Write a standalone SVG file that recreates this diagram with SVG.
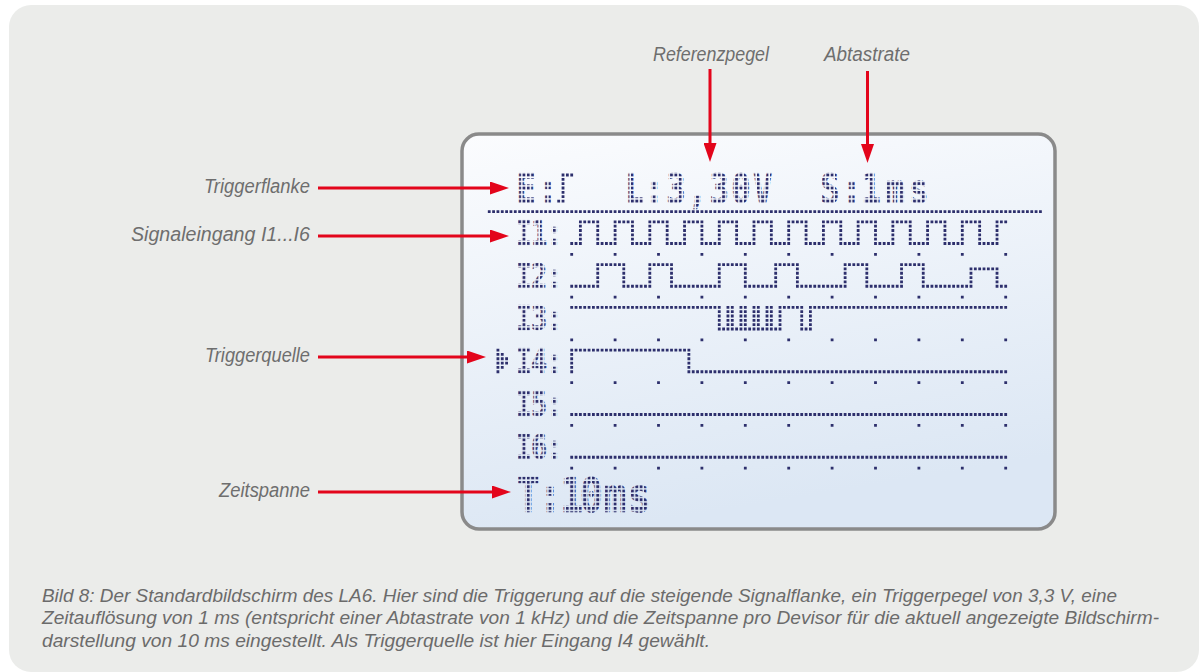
<svg xmlns="http://www.w3.org/2000/svg" width="1204" height="672" viewBox="0 0 1204 672">
<defs>
<style>
.lbl{font-family:"Liberation Sans",Arial,sans-serif;font-style:italic;font-size:20px;fill:#6e6e6e}
.cap{font-family:"Liberation Sans",Arial,sans-serif;font-style:italic;font-size:18px;fill:#6b6b6b}
.arr{stroke:#e3051b;stroke-width:3;fill:none;marker-end:url(#ah)}
.dl{fill:none;stroke:#2d2f6c;stroke-width:0.645;stroke-dasharray:0.645 0.355}
.mk{fill:none;stroke:#2d2f6c;stroke-width:0.645;stroke-dasharray:0.645 9.355}
.lcdt{font-family:"DejaVu Sans Mono","Liberation Mono",monospace;font-weight:bold;text-anchor:middle;fill:url(#dotc);stroke:url(#dotc);stroke-width:0.12}
</style>
<linearGradient id="lcdbg" x1="0" y1="0" x2="0.25" y2="1">
<stop offset="0" stop-color="#fbfcfe"/><stop offset="1" stop-color="#dce7f4"/>
</linearGradient>
<pattern id="dotc" patternUnits="userSpaceOnUse" x="-0.3225" y="-0.3225" width="1" height="1" patternTransform="scale(1.25 1)">
<rect width="0.645" height="0.645" fill="#2d2f6c"/>
</pattern>
<marker id="ah" markerUnits="userSpaceOnUse" markerWidth="20" markerHeight="13" refX="9" refY="6.5" orient="auto">
<path d="M0,0 L19,6.5 L0,13 z" fill="#e3051b"/>
</marker>
</defs>

<rect x="9" y="5" width="1190" height="667" rx="22" fill="#ebecea"/>

<g id="lcd">
<rect x="462" y="134" width="593" height="395" rx="17" fill="url(#lcdbg)" stroke="#8a8a8a" stroke-width="3.5"/>
</g>

<g id="header" transform="translate(571.7 175) scale(4.34)">
<text class="lcdt" font-size="9.26" transform="scale(0.8 1)" x="-13.125 -6.875" y="6.38">E:</text>
<path class="dl" d="M-3.3225 6 H-2 V0 H0.3225"/>
<text class="lcdt" font-size="9.26" transform="scale(0.8 1)" x="18.125 23.75 30 36.25 42.5 48.75 55" y="6.38">L:3,30V</text>
<text class="lcdt" font-size="9.26" transform="scale(0.8 1)" x="74.375 80.625 86.25 93.125 100" y="6.38">S:1ms</text>
</g>
<path class="dl" transform="translate(571.7 211.7) scale(4.34)" d="M-19.3225 0 H108.3225"/>

<g id="ch-I1" transform="translate(571.7 221.8) scale(4.34)">
<text class="lcdt" font-size="7.74" transform="scale(0.8 1)" x="-13.75 -9.375 -5" y="5.32">I1:</text>
<path class="dl" d="M-0.3225 5 H2 V0 H6 V5 H10 V0 H14 V5 H18 V0 H22 V5 H26 V0 H30 V5 H34 V0 H38 V5 H42 V0 H46 V5 H50 V0 H54 V5 H58 V0 H62 V5 H66 V0 H70 V5 H74 V0 H78 V5 H82 V0 H86 V5 H90 V0 H94 V5 H98 V0 H100.3225"/>
<path class="mk" d="M-0.3225 7.5 H100.3225"/>
</g>

<g id="ch-I2" transform="translate(571.7 264.55) scale(4.34)">
<text class="lcdt" font-size="7.74" transform="scale(0.8 1)" x="-13.75 -9.375 -5" y="5.32">I2:</text>
<path class="dl" d="M-0.3225 5 H6 V0 H12 V5 H18 V0 H23 V5 H34 V0 H40 V5 H47 V0 H52 V5 H63 V0 H68 V5 H76 V0 H81 V5 H92 V1 H98 V5 H100.3225"/>
<path class="mk" d="M-0.3225 7.5 H100.3225"/>
</g>

<g id="ch-I3" transform="translate(571.7 307.3) scale(4.34)">
<text class="lcdt" font-size="7.74" transform="scale(0.8 1)" x="-13.75 -9.375 -5" y="5.32">I3:</text>
<path class="dl" d="M-0.3225 0 H34 V5 H36 V0 H37 V5 H39 V0 H40 V5 H42 V0 H43 V5 H45 V0 H46 V5 H48 V0 H53 V5 H55 V0 H100.3225"/>
<path class="mk" d="M-0.3225 7.5 H100.3225"/>
</g>

<g id="ch-I4" transform="translate(571.7 350.05) scale(4.34)">
<path class="dl" d="M-17 -0.3225 V5.3225 M-16 0.6775 V4.3225 M-15 1.6775 V3.3225"/>
<text class="lcdt" font-size="7.74" transform="scale(0.8 1)" x="-13.75 -9.375 -5" y="5.32">I4:</text>
<path class="dl" d="M0 5.3225 V0 H27 V5 H100.3225"/>
<path class="mk" d="M-0.3225 7.5 H100.3225"/>
</g>

<g id="ch-I5" transform="translate(571.7 392.8) scale(4.34)">
<text class="lcdt" font-size="7.74" transform="scale(0.8 1)" x="-13.75 -9.375 -5" y="5.32">I5:</text>
<path class="dl" d="M-0.3225 5 H100.3225"/>
<path class="mk" d="M-0.3225 7.5 H100.3225"/>
</g>

<g id="ch-I6" transform="translate(571.7 435.55) scale(4.34)">
<text class="lcdt" font-size="7.74" transform="scale(0.8 1)" x="-13.75 -9.375 -5" y="5.32">I6:</text>
<path class="dl" d="M-0.3225 5 H100.3225"/>
<path class="mk" d="M-0.3225 7.5 H100.3225"/>
</g>

<g id="timebase" transform="translate(571.7 478) scale(4.34)">
<text class="lcdt" font-size="11.06" transform="scale(0.8 1)" x="-12.5 -6.25 0 5.625 12.5 19.375" y="7.76">T:10ms</text>
</g>

<g id="lbl-referenzpegel"><text class="lbl" x="711" y="61" text-anchor="middle" textLength="116" lengthAdjust="spacingAndGlyphs">Referenzpegel</text></g>
<g id="lbl-abtastrate"><text class="lbl" x="867" y="61" text-anchor="middle" textLength="86" lengthAdjust="spacingAndGlyphs">Abtastrate</text></g>
<g id="lbl-triggerflanke"><text class="lbl" x="310" y="193" text-anchor="end" textLength="106" lengthAdjust="spacingAndGlyphs">Triggerflanke</text></g>
<g id="lbl-signaleingang"><text class="lbl" x="310" y="241" text-anchor="end" textLength="179" lengthAdjust="spacingAndGlyphs">Signaleingang I1...I6</text></g>
<g id="lbl-triggerquelle"><text class="lbl" x="310" y="362" text-anchor="end" textLength="105" lengthAdjust="spacingAndGlyphs">Triggerquelle</text></g>
<g id="lbl-zeitspanne"><text class="lbl" x="310" y="497" text-anchor="end" textLength="91" lengthAdjust="spacingAndGlyphs">Zeitspanne</text></g>

<g id="connectors">
<line class="arr" x1="710" y1="69" x2="710" y2="152"/>
<line class="arr" x1="867.5" y1="71" x2="867.5" y2="153"/>
<line class="arr" x1="318" y1="188" x2="499" y2="188"/>
<line class="arr" x1="318" y1="236" x2="499" y2="236"/>
<line class="arr" x1="318" y1="357" x2="476" y2="357"/>
<line class="arr" x1="318" y1="492" x2="501" y2="492"/>
</g>

<g id="caption">
<text class="cap" x="42" y="601.5" textLength="1075" lengthAdjust="spacingAndGlyphs">Bild 8: Der Standardbildschirm des LA6. Hier sind die Triggerung auf die steigende Signalflanke, ein Triggerpegel von 3,3 V, eine</text>
<text class="cap" x="42" y="624" textLength="1117" lengthAdjust="spacingAndGlyphs">Zeitauflösung von 1 ms (entspricht einer Abtastrate von 1 kHz) und die Zeitspanne pro Devisor für die aktuell angezeigte Bildschirm-</text>
<text class="cap" x="42" y="646.5" textLength="668" lengthAdjust="spacingAndGlyphs">darstellung von 10 ms eingestellt. Als Triggerquelle ist hier Eingang I4 gewählt.</text>
</g>
</svg>
